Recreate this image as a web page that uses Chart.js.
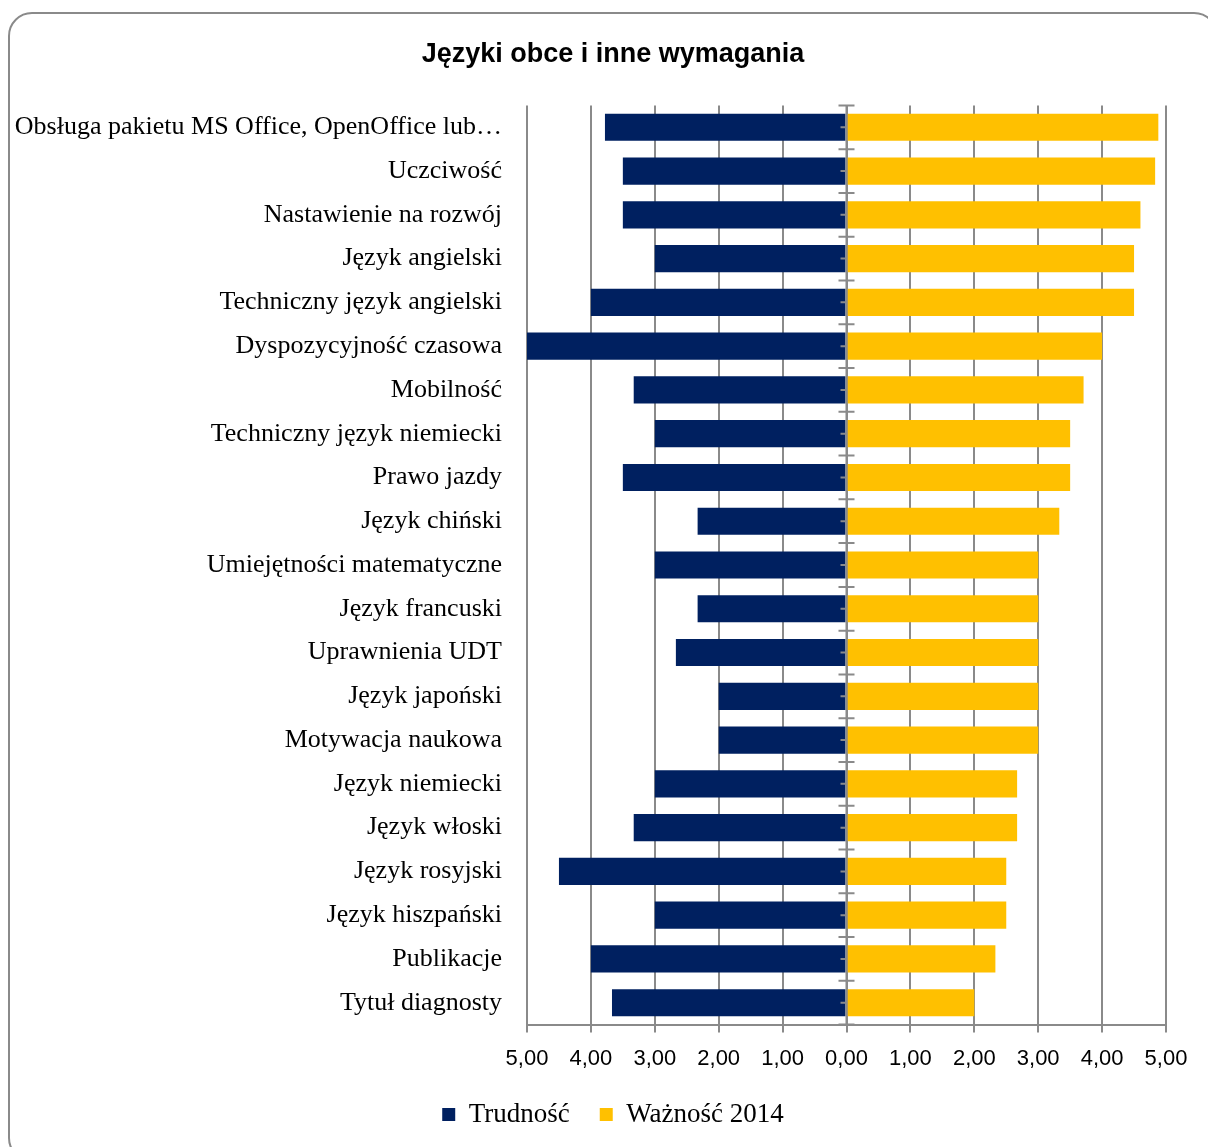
<!DOCTYPE html>
<html>
<head>
	<meta charset="utf-8">
	<title>Języki obce i inne wymagania</title>
	<script src="https://cdn.jsdelivr.net/npm/chart.js"></script>
	<style>
		html, body { margin: 0; padding: 0; background: #fff; overflow: hidden; }
		.frame {
			position: absolute;
			left: 8px;
			top: 12px;
			width: 1210px;
			height: 1150px;
			border: 2px solid #8a8a8a;
			border-radius: 24px;
			box-sizing: border-box;
			background: #fff;
		}
		.frame canvas { display: block; }
	</style>
</head>
<body>
	<div class="frame">
		<canvas id="wymagania" width="1206" height="1146"></canvas>
	</div>
<script>
    // kategorie od góry do dołu
    const labels = [
        'Obsługa pakietu MS Office, OpenOffice lub…',
        'Uczciwość',
        'Nastawienie na rozwój',
        'Język angielski',
        'Techniczny język angielski',
        'Dyspozycyjność czasowa',
        'Mobilność',
        'Techniczny język niemiecki',
        'Prawo jazdy',
        'Język chiński',
        'Umiejętności matematyczne',
        'Język francuski',
        'Uprawnienia UDT',
        'Język japoński',
        'Motywacja naukowa',
        'Język niemiecki',
        'Język włoski',
        'Język rosyjski',
        'Język hiszpański',
        'Publikacje',
        'Tytuł diagnosty'
    ];

    const trudnosc = [3.78, 3.5, 3.5, 3.0, 4.0, 5.0, 3.33, 3.0, 3.5, 2.33, 3.0,
                      2.33, 2.67, 2.0, 2.0, 3.0, 3.33, 4.5, 3.0, 4.0, 3.67];

    const waznosc = [4.88, 4.83, 4.6, 4.5, 4.5, 4.0, 3.71, 3.5, 3.5, 3.33, 3.0,
                     3.0, 3.0, 3.0, 3.0, 2.67, 2.67, 2.5, 2.5, 2.33, 2.0];

    const xTicks = [-5, -4, -3, -2, -1, 0, 1, 2, 3, 4, 5];

    const gridColor = '#8a8a8a';
    const serif = "'Liberation Serif', 'DejaVu Serif', serif";
    const narrow = "'Liberation Sans Narrow', 'Liberation Sans', sans-serif";

    // trudność rysowana w lewo od zera
    const trudnoscLeft = trudnosc.map(v => -v);

    // oś środkowa z kreskami między kategoriami
    const centerAxis = {
        id: 'centerAxis',
        afterDatasetsDraw(chart) {
            const { ctx, chartArea } = chart;
            const x = chart.scales.x;
            const y = chart.scales.y;
            const x0 = x.getPixelForValue(0);
            const step = y.getPixelForValue(1) - y.getPixelForValue(0);

            ctx.save();
            ctx.strokeStyle = gridColor;
            ctx.lineWidth = 2;
            ctx.beginPath();
            ctx.moveTo(x0, chartArea.top);
            ctx.lineTo(x0, chartArea.bottom);
            for (let i = 0; i <= labels.length; i++) {
                const py = y.getPixelForValue(i) - step / 2;
                ctx.moveTo(x0 - 8, py);
                ctx.lineTo(x0 + 8, py);
            }
            for (let i = 0; i < labels.length; i++) {
                const py = y.getPixelForValue(i);
                ctx.moveTo(x0 - 6, py);
                ctx.lineTo(x0, py);
            }
            ctx.stroke();
            ctx.restore();
        }
    };

    new Chart(document.getElementById('wymagania'), {
        type: 'bar',
        data: {
            labels,
            datasets: [
                {
                    label: 'Trudność',
                    data: trudnoscLeft,
                    backgroundColor: '#002060',
                    borderWidth: 0,
                    barPercentage: 0.62,
                    categoryPercentage: 1
                },
                {
                    label: 'Ważność 2014',
                    data: waznosc,
                    backgroundColor: '#ffc000',
                    borderWidth: 0,
                    barPercentage: 0.62,
                    categoryPercentage: 1
                }
            ]
        },
        options: {
            indexAxis: 'y',
            responsive: false,
            animation: false,
            layout: { padding: { left: 0, right: 0, top: 0, bottom: 22 } },
            scales: {
                x: {
                    stacked: true,
                    min: -5,
                    max: 5,
                    afterBuildTicks: (scale) => {
                        scale.ticks = xTicks.map(v => ({ value: v }));
                    },
                    afterFit: (scale) => { scale.height -= 14; },
                    grid: {
                        color: gridColor,
                        lineWidth: 2,
                        tickLength: 8
                    },
                    border: { color: gridColor, width: 2 },
                    ticks: {
                        color: '#000',
                        padding: 13,
                        font: { family: narrow, size: 22 },
                        callback: (v) => Math.abs(v).toFixed(2).replace('.', ',')
                    }
                },
                y: {
                    stacked: true,
                    grid: { display: false, drawTicks: false },
                    border: { display: false },
                    ticks: {
                        color: '#000',
                        padding: 25,
                        autoSkip: false,
                        font: { family: serif, size: 26 }
                    },
                    afterFit: (scale) => { scale.width = 517; }
                },
                // pusty margines po prawej stronie wykresu
                yRight: {
                    type: 'category',
                    position: 'right',
                    grid: { display: false, drawTicks: false },
                    border: { display: false },
                    ticks: { display: false },
                    afterFit: (scale) => { scale.width = 50; }
                }
            },
            plugins: {
                title: {
                    display: true,
                    text: 'Języki obce i inne wymagania',
                    color: '#000',
                    font: { family: "'Liberation Sans', sans-serif", size: 27, weight: 'bold' },
                    padding: { top: 24, bottom: 35 }
                },
                legend: {
                    position: 'bottom',
                    labels: {
                        color: '#000',
                        boxWidth: 13,
                        boxHeight: 13,
                        padding: 30,
                        font: { family: serif, size: 27 }
                    }
                },
                tooltip: { enabled: false }
            }
        },
        plugins: [centerAxis]
    });
</script>
</body>
</html>
